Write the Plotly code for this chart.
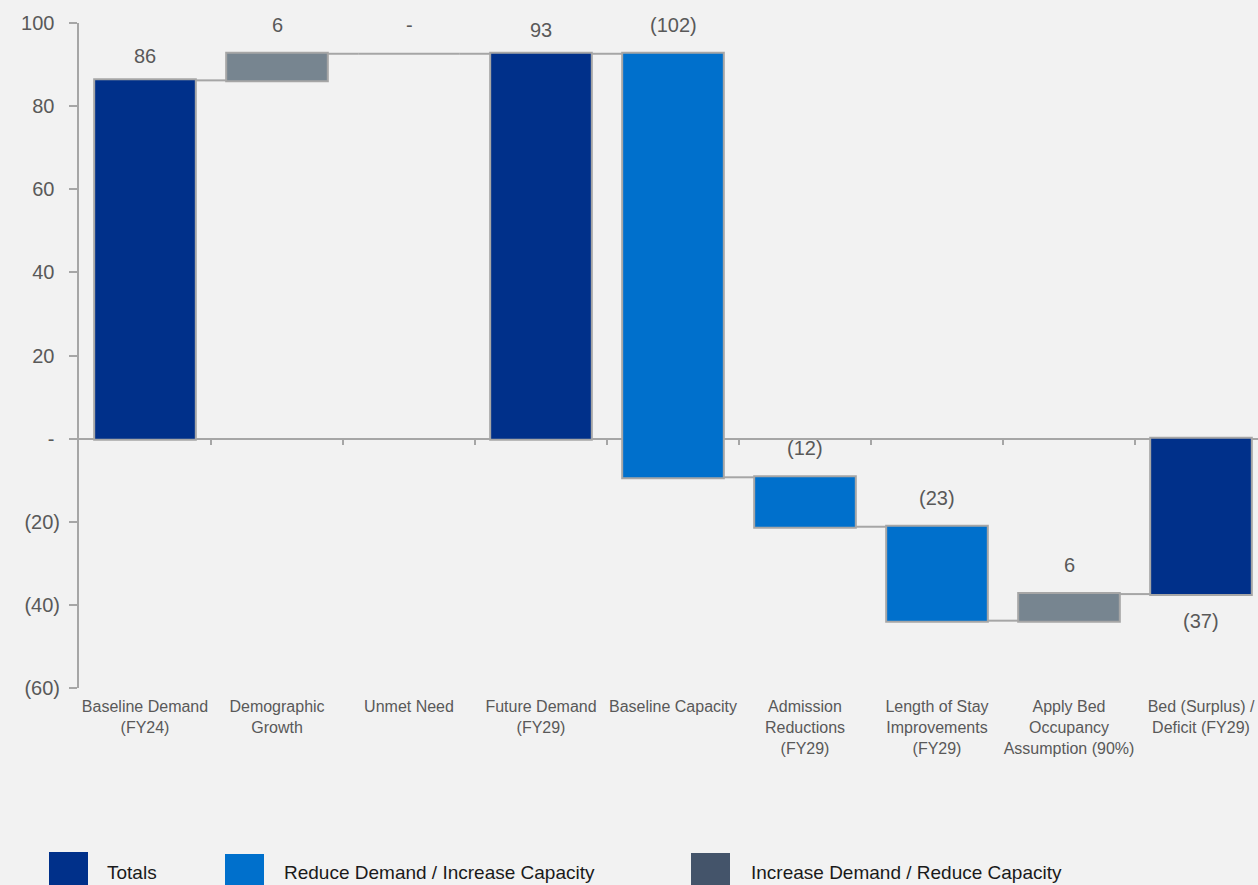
import plotly.graph_objects as go

# ---------------- data ----------------
categories = [
    "Baseline Demand<br>(FY24)",
    "Demographic<br>Growth",
    "Unmet Need",
    "Future Demand<br>(FY29)",
    "Baseline Capacity",
    "Admission<br>Reductions<br>(FY29)",
    "Length of Stay<br>Improvements<br>(FY29)",
    "Apply Bed<br>Occupancy<br>Assumption (90%)",
    "Bed (Surplus) /<br>Deficit (FY29)",
]
measures = ["absolute", "relative", "relative", "total", "relative",
            "relative", "relative", "relative", "total"]
values = [86.2, 6.4, 0.0, 0.0, -101.9, -11.9, -22.6, 6.4, 0.0]

y_tick_vals = [-60, -40, -20, 0, 20, 40, 60, 80, 100]
legend_labels = ["Totals", "Reduce Demand / Increase Capacity",
                 "Increase Demand / Reduce Capacity"]

# ---------------- style ----------------
W, H = 1258, 885
ML, MR, MT, MB = 79, 0, 23, 197
PW, PH = W - ML - MR, H - MT - MB
CAT_PX = 132.0
BAR_W = 0.77

NAVY = "#00308A"
BLUE = "#0070CC"
GRAY_BAR = "#778590"
SLATE = "#44546A"
LINE = "#A6A6A6"
TXT = "#595959"
BG = "#F2F2F2"
FONT = "Liberation Sans, Arial, sans-serif"

positions = list(range(len(categories)))
x_range = [-0.5, -0.5 + PW / CAT_PX]


def fmt(v):
    n = int(abs(v) + 0.5)
    if n == 0:
        return "-"
    return f"({n})" if v < 0 else str(n)


def tick_fmt(v):
    if v == 0:
        return "-\u00a0"
    return f"({abs(v)})" if v < 0 else f"{v}\u00a0"


# cumulative levels for label placement
starts, ends = [], []
level = 0.0
for m, v in zip(measures, values):
    if m == "absolute":
        s, e = 0.0, v
    elif m == "total":
        s, e = 0.0, level
    else:
        s, e = level, level + v
    level = e
    starts.append(s)
    ends.append(e)

fig = go.Figure()
fig.add_trace(go.Waterfall(
    x=positions, y=values, measure=measures,
    width=BAR_W,
    textinfo="none", hoverinfo="skip",
    increasing=dict(marker=dict(color=GRAY_BAR, line=dict(color=LINE, width=2))),
    decreasing=dict(marker=dict(color=BLUE, line=dict(color=LINE, width=2))),
    totals=dict(marker=dict(color=NAVY, line=dict(color=LINE, width=2))),
    connector=dict(mode="between", line=dict(color=LINE, width=2)),
    showlegend=False,
))

# zero-height steps drawn as a flat outline at their level
for i, (m, v) in enumerate(zip(measures, values)):
    if m == "relative" and v == 0:
        fig.add_trace(go.Scatter(
            x=[positions[i] - BAR_W / 2, positions[i] + BAR_W / 2],
            y=[ends[i], ends[i]], mode="lines",
            line=dict(color=LINE, width=2), hoverinfo="skip", showlegend=False))

# helper trace for the zero-line axis
fig.add_trace(go.Scatter(x=[positions[0]], y=[0], xaxis="x2", yaxis="y",
                         mode="markers", marker=dict(opacity=0),
                         hoverinfo="skip", showlegend=False))

annotations = []
for i, (m, s, e, v) in enumerate(zip(measures, starts, ends, values)):
    if m in ("absolute", "total"):
        val = e
        if e >= 0:
            y, shift = e, 24
        else:
            y, shift = e, -27
    else:
        val = v
        y, shift = max(s, e), 29
    annotations.append(dict(
        x=positions[i], y=y, xref="x", yref="y", text=fmt(val),
        showarrow=False, yshift=shift, yanchor="middle",
        font=dict(family=FONT, size=20, color=TXT)))


def px_x(p):
    return (p - ML) / PW


def px_y(p):
    return (H - MB - p) / PH


legend_colors = [NAVY, BLUE, SLATE]
legend_box_x = [49, 225, 691]
legend_box_top = [852, 854, 853]
legend_text_x = [105, 282, 749]
shapes = []
for c, bx, bt, tx, lab in zip(legend_colors, legend_box_x, legend_box_top,
                               legend_text_x, legend_labels):
    shapes.append(dict(type="rect", xref="paper", yref="paper",
                       x0=px_x(bx), x1=px_x(bx + 39), y0=px_y(bt), y1=px_y(bt + 40),
                       fillcolor=c, line=dict(width=0), layer="above"))
    annotations.append(dict(
        x=px_x(tx), y=px_y(872), xref="paper", yref="paper", text=lab,
        showarrow=False, xanchor="left", yanchor="middle",
        font=dict(family=FONT, size=19, color="#1A1A1A")))

fig.update_layout(
    width=W, height=H,
    margin=dict(l=ML, r=MR, t=MT, b=MB, pad=0),
    paper_bgcolor=BG, plot_bgcolor=BG,
    font=dict(family=FONT, color=TXT),
    xaxis=dict(range=x_range, tickmode="array", tickvals=positions,
               ticktext=categories, showline=False, ticks="",
               showgrid=False, zeroline=False,
               tickfont=dict(family=FONT, size=16, color=TXT),
               ticklabelstandoff=7),
    xaxis2=dict(range=x_range, overlaying="x", anchor="free",
                position=(0 - y_tick_vals[0]) / (y_tick_vals[-1] - y_tick_vals[0]),
                side="bottom", showline=True, linecolor=LINE, linewidth=2,
                ticks="outside", ticklen=5, tickwidth=2, tickcolor=LINE,
                tickmode="array", tickvals=[p + 0.5 for p in positions[:-1]],
                showticklabels=False, showgrid=False, zeroline=False,
                layer="below traces"),
    yaxis=dict(range=[y_tick_vals[0], y_tick_vals[-1]], tickmode="array",
               tickvals=y_tick_vals, ticktext=[tick_fmt(v) for v in y_tick_vals],
               showline=True, linecolor=LINE, linewidth=2,
               ticks="outside", ticklen=8, tickwidth=2, tickcolor=LINE,
               showgrid=False, zeroline=False,
               tickfont=dict(family=FONT, size=20, color=TXT),
               ticklabelstandoff=5),
    annotations=annotations,
    shapes=shapes,
)

fig.write_html(
    "out.html",
    config={"displayModeBar": False},
    post_script="document.body.style.margin='0';"
                "document.body.style.overflow='hidden';"
                "document.body.style.background='#F2F2F2';",
)
